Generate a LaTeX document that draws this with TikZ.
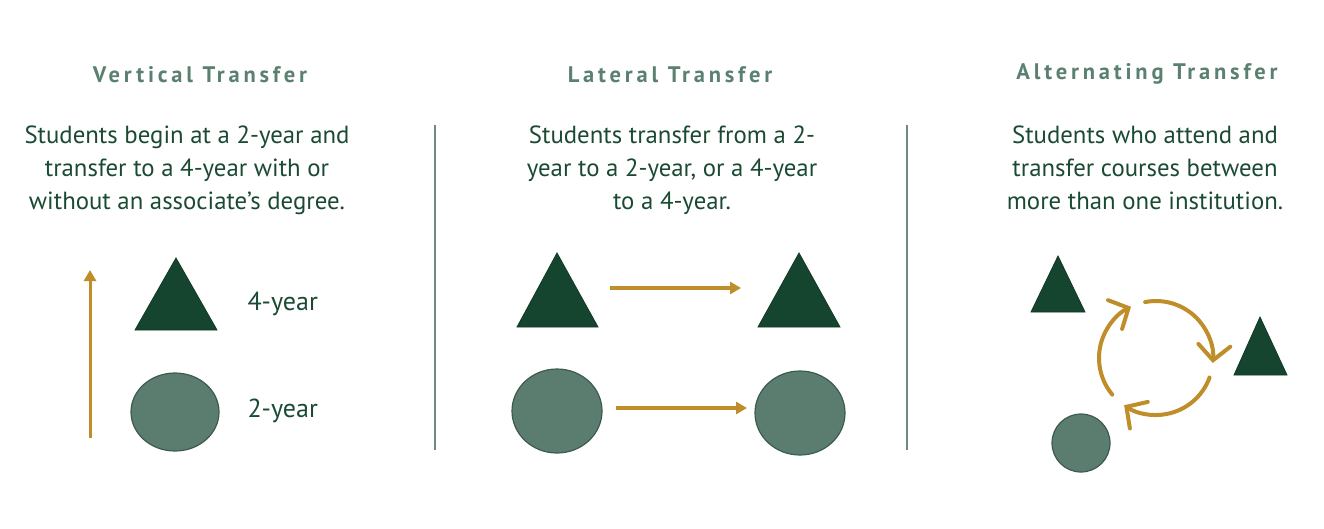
\documentclass[tikz,border=0pt]{standalone}
\usepackage{fontspec}
\setmainfont{PT Sans}
\usetikzlibrary{arrows.meta}
\definecolor{dkgreen}{HTML}{16452F}
\definecolor{txtgreen}{HTML}{1B4A33}
\definecolor{ttlgreen}{HTML}{5A8070}
\definecolor{circfill}{HTML}{5A7D70}
\definecolor{circline}{HTML}{3E5A50}
\definecolor{gold}{HTML}{BF8D2A}
\definecolor{divider}{HTML}{6F8A80}
\tikzset{
  ttl/.style={anchor=base, text=ttlgreen, font=\fontsize{22.5}{26}\selectfont\bfseries\addfontfeature{LetterSpace=17}},
  body/.style={anchor=base, text=txtgreen, align=center, font=\fontsize{24.8}{33}\selectfont},
  lbl/.style={anchor=base west, text=txtgreen, font=\fontsize{26}{33}\selectfont},
  tri/.style={fill=dkgreen, draw=dkgreen!80!black, line width=0.8pt, line join=miter},
  circ/.style={fill=circfill, draw=circline, line width=1.2pt},
  garrow/.style={draw=gold, line width=3.6pt, -{Triangle[length=11pt,width=12pt]}},
  carrow/.style={draw=gold, line width=4pt, line cap=round, -{Straight Barb[length=15pt,width=32pt,line cap=round]}},
  divline/.style={draw=divider, line width=1.2pt}
}
\begin{document}
\begin{tikzpicture}[x=1pt,y=-1pt]
\useasboundingbox (0,0) rectangle (1324,528);
% titles
\node[ttl] (t1) at (200,82) {Vertical Transfer};
\node[ttl] (t2) at (670,82) {Lateral Transfer};
\node[ttl] (t3) at (1147,79) {Alternating Transfer};
% bodies
\node[body] (b1) at (187,209) {Students begin at a 2-year and\\transfer to a 4-year with or\\without an associate’s degree.};
\node[body] (b2) at (672,209) {Students transfer from a 2-\\year to a 2-year, or a 4-year\\to a 4-year.};
\node[body] (b3) at (1145,209) {Students who attend and\\transfer courses between\\more than one institution.};
% dividers
\coordinate (d1a) at (435,125); \coordinate (d1b) at (435,450);
\coordinate (d2a) at (907,125); \coordinate (d2b) at (907,450);
\draw[divline] (d1a) -- (d1b);
\draw[divline] (d2a) -- (d2b);
% vertical section
\draw[tri] (176,258) -- (217,330) -- (135,330) -- cycle;
\draw[circ] (175,412) ellipse [x radius=44, y radius=39];
\node[lbl] (l4) at (244,310) {4-year};
\node[lbl] (l2) at (244,417) {2-year};
\coordinate (va) at (90,438); \coordinate (vb) at (90,270);
\draw[garrow, line width=3pt] (va) -- (vb);
% lateral section
\draw[tri] (557,253) -- (598,327) -- (517,327) -- cycle;
\draw[tri] (799,253) -- (840,327) -- (758,327) -- cycle;
\draw[circ] (557,411) ellipse [x radius=45, y radius=42];
\draw[circ] (800,413) ellipse [x radius=45, y radius=42];
\coordinate (la1) at (610,288); \coordinate (la2) at (741,288);
\coordinate (lb1) at (616,408); \coordinate (lb2) at (747,408);
\draw[garrow] (la1) -- (la2);
\draw[garrow] (lb1) -- (lb2);
% alternating section
\draw[tri] (1058,256) -- (1085,312) -- (1031,312) -- cycle;
\draw[tri] (1260,317) -- (1287,375) -- (1234,375) -- cycle;
\draw[circ] (1081,443) circle [radius=29];
\coordinate (cc) at (1156,358);
\draw[carrow] ([shift={(-220:57)}]cc) arc[start angle=-220, end angle=-116, radius=57];
\draw[carrow] ([shift={(-101:57)}]cc) arc[start angle=-101, end angle=5, radius=57];
\draw[carrow] ([shift={(20:57)}]cc) arc[start angle=20, end angle=124, radius=57];
\end{tikzpicture}
\end{document}
